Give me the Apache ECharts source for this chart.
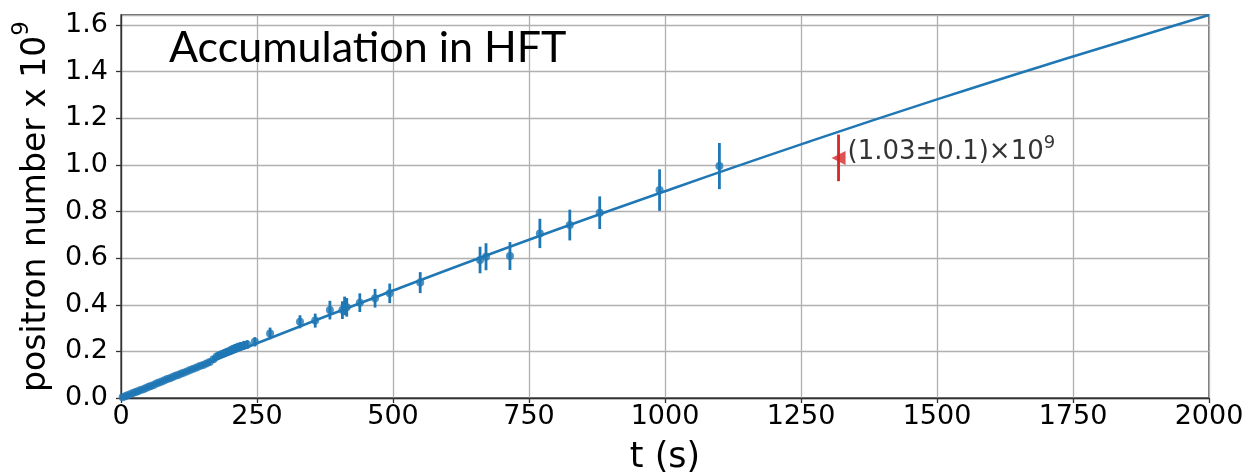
<!DOCTYPE html>
<html lang="en">
<head>
  <meta charset="UTF-8">
  <title>Accumulation in HFT</title>
  <style>
    html, body { margin: 0; padding: 0; background: #fff; }
    #main { width: 1250px; height: 476px; }
  </style>
</head>
<body>
  <div id="main"></div>
  <script src="https://cdn.jsdelivr.net/npm/echarts@6/dist/echarts.min.js"></script>
  <script>
    // dense early measurements (t in s, N in 1e9)
    const denseT = [3, 8, 12, 17, 22, 27, 31, 36, 41, 46, 51, 55, 60, 65, 70, 75, 80, 85, 90, 95, 100, 105, 110, 115, 121, 127, 133, 139, 145, 151, 157, 163, 170, 176, 180, 185, 190, 195, 200, 205, 210, 215, 220, 226, 232]
    const denseN = [0.003, 0.008, 0.012, 0.016, 0.021, 0.026, 0.029, 0.034, 0.038, 0.043, 0.048, 0.052, 0.056, 0.062, 0.067, 0.071, 0.076, 0.081, 0.085, 0.090, 0.095, 0.099, 0.104, 0.108, 0.114, 0.120, 0.125, 0.131, 0.137, 0.142, 0.148, 0.154, 0.166, 0.178, 0.183, 0.188, 0.193, 0.198, 0.203, 0.209, 0.214, 0.219, 0.222, 0.226, 0.229]
    const denseErr = [0.002, 0.002, 0.003, 0.003, 0.004, 0.004, 0.004, 0.005, 0.005, 0.005, 0.006, 0.006, 0.006, 0.007, 0.007, 0.007, 0.008, 0.008, 0.008, 0.009, 0.009, 0.009, 0.010, 0.010, 0.010, 0.011, 0.011, 0.012, 0.012, 0.012, 0.013, 0.013, 0.014, 0.015, 0.015, 0.016, 0.016, 0.016, 0.017, 0.017, 0.018, 0.018, 0.018, 0.019, 0.019]

    // later measurements
    const pointT = [246, 274, 329, 357, 384, 407, 411, 415, 439, 467, 494, 550, 660, 671, 715, 770, 825, 880, 990, 1100]
    const pointN = [0.241, 0.277, 0.327, 0.332, 0.377, 0.377, 0.395, 0.389, 0.409, 0.428, 0.449, 0.495, 0.592, 0.606, 0.609, 0.706, 0.742, 0.795, 0.892, 0.995]
    const pointErr = [0.02, 0.025, 0.028, 0.03, 0.04, 0.038, 0.04, 0.04, 0.04, 0.04, 0.042, 0.045, 0.057, 0.058, 0.06, 0.063, 0.066, 0.07, 0.089, 0.099]

    // fitted accumulation curve
    const fitT = [0, 250, 500, 750, 1000, 1250, 1500, 1750, 2000]
    const fitN = [0, 0.235, 0.461, 0.679, 0.887, 1.088, 1.281, 1.465, 1.643]

    // final measurement
    const finalT = [1319]
    const finalN = [1.03]
    const finalErr = [0.1]

    const blue = '#1f77b4'
    const red = '#d62728'
    const font = 'DejaVu Sans'

    const pairs = (xs, ys) => xs.map((x, i) => [x, ys[i]])
    const bars = (xs, ys, es) => xs.map((x, i) => [x, ys[i] - es[i], ys[i] + es[i]])

    function errorBar(color, width) {
      return function (params, api) {
        const a = api.coord([api.value(0), api.value(1)])
        const b = api.coord([api.value(0), api.value(2)])
        return {
          type: 'line',
          shape: { x1: a[0], y1: a[1], x2: b[0], y2: b[1] },
          style: { stroke: color, lineWidth: width }
        }
      }
    }

    const myChart = echarts.init(document.getElementById('main'))
    myChart.setOption({
      animation: false,
      backgroundColor: '#fff',
      title: {
        text: 'Accumulation in HFT',
        left: 164,
        top: 22,
        textStyle: { fontFamily: 'Lato', fontWeight: 'normal', fontSize: 43, color: '#000' }
      },
      grid: {
        left: 121, right: 41, top: 15, bottom: 78,
        outerBoundsMode: 'none',
        containLabel: false,
        show: true, borderColor: '#333', borderWidth: 1.3
      },
      xAxis: {
        type: 'value',
        min: 0, max: 2000, interval: 250,
        name: 't (s)',
        nameLocation: 'middle',
        nameGap: 42,
        nameTextStyle: { fontFamily: font, fontSize: 35, color: '#000' },
        axisLine: { show: true, lineStyle: { color: '#333', width: 1.3 } },
        axisTick: { show: true, length: 5, lineStyle: { color: '#333', width: 1.3 } },
        axisLabel: {
          fontFamily: font, fontSize: 27, color: '#000', margin: 5,
          formatter: v => String(v)
        },
        splitLine: { show: true, lineStyle: { color: '#b0b0b0', width: 1.3 } }
      },
      yAxis: {
        type: 'value',
        min: 0, max: 1.643, interval: 0.2,
        name: '{a|positron number x 10}{b|9}',
        nameLocation: 'middle',
        nameGap: 68,
        nameTextStyle: {
          fontFamily: font, fontSize: 33, color: '#000',
          rich: {
            a: { fontFamily: font, fontSize: 33, color: '#000', padding: [9, 0, 0, 0] },
            b: { fontFamily: font, fontSize: 23, color: '#000', verticalAlign: 'top' }
          }
        },
        axisLine: { show: true, lineStyle: { color: '#333', width: 1.3 } },
        axisTick: { show: true, length: 5, lineStyle: { color: '#333', width: 1.3 } },
        axisLabel: {
          fontFamily: font, fontSize: 27, color: '#000', margin: 13,
          showMaxLabel: false,
          formatter: function (v) {
            const k = v / 0.2
            return Math.abs(k - Math.round(k)) < 1e-6 ? v.toFixed(1) : ''
          }
        },
        splitLine: { show: true, lineStyle: { color: '#b0b0b0', width: 1.3 } }
      },
      series: [
        {
          type: 'line',
          data: pairs(fitT, fitN),
          showSymbol: false,
          smooth: true,
          lineStyle: { color: blue, width: 2.5 },
          z: 2
        },
        {
          type: 'custom',
          renderItem: errorBar(blue, 2.8),
          data: bars(denseT, denseN, denseErr),
          z: 3
        },
        {
          type: 'custom',
          renderItem: errorBar(blue, 2.8),
          data: bars(pointT, pointN, pointErr),
          z: 3
        },
        {
          type: 'scatter',
          data: pairs(denseT, denseN).concat(pairs(pointT, pointN)),
          symbol: 'circle',
          symbolSize: 8,
          itemStyle: { color: blue },
          z: 4
        },
        {
          type: 'custom',
          renderItem: errorBar(red, 2.8),
          data: bars(finalT, finalN, finalErr),
          z: 3
        },
        {
          type: 'scatter',
          data: pairs(finalT, finalN),
          symbol: 'triangle',
          symbolRotate: 90,
          symbolSize: 14,
          itemStyle: { color: red },
          label: {
            show: true,
            position: 'right',
            distance: 2,
            offset: [0, -8],
            formatter: '{a|(1.03±0.1)×10}{b|9}',
            rich: {
              a: { fontFamily: font, fontSize: 26, color: '#000', padding: [5, 0, 0, 0] },
              b: { fontFamily: font, fontSize: 18, color: '#000', verticalAlign: 'top' }
            }
          },
          z: 4
        }
      ]
    })
  </script>
</body>
</html>
